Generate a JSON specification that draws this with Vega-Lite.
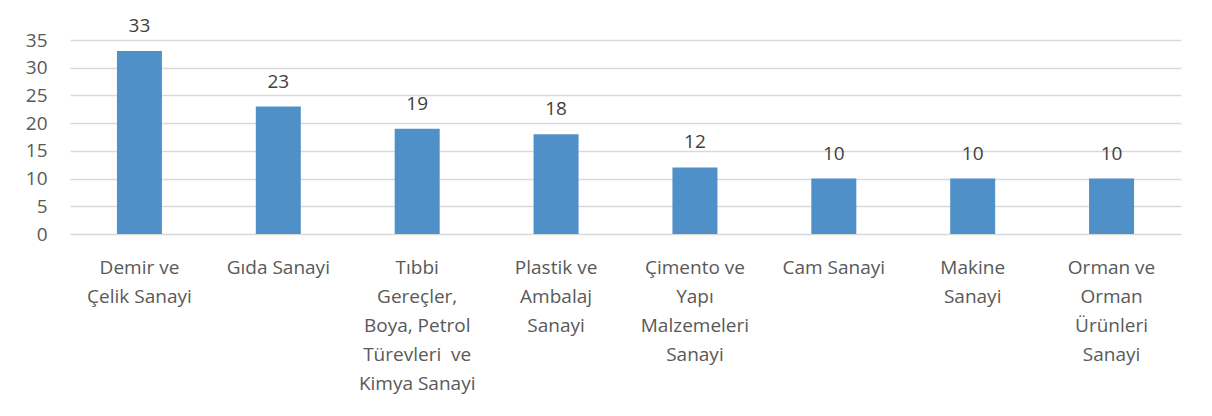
{
  "$schema": "https://vega.github.io/schema/vega-lite/v6.json",
  "autosize": "none",
  "width": 1111,
  "height": 194,
  "padding": {"left": 70, "top": 40, "right": 31, "bottom": 182},
  "background": "white",
  "config": {
    "view": {"stroke": null},
    "font": "Open Sans"
  },
  "data": {
    "values": [
      {"sector": "Demir ve|Çelik Sanayi", "value": 33},
      {"sector": "Gıda Sanayi", "value": 23},
      {"sector": "Tıbbi|Gereçler,|Boya, Petrol|Türevleri\u00a0 ve|Kimya Sanayi", "value": 19},
      {"sector": "Plastik ve|Ambalaj|Sanayi", "value": 18},
      {"sector": "Çimento ve|Yapı|Malzemeleri|Sanayi", "value": 12},
      {"sector": "Cam Sanayi", "value": 10},
      {"sector": "Makine|Sanayi", "value": 10},
      {"sector": "Orman ve|Orman|Ürünleri|Sanayi", "value": 10}
    ]
  },
  "encoding": {
    "x": {
      "field": "sector",
      "type": "nominal",
      "sort": null,
      "scale": {"paddingInner": 0.676, "paddingOuter": 0.338},
      "axis": {
        "title": null,
        "labelAngle": 0,
        "labelExpr": "split(datum.label, '|')",
        "labelFont": "Open Sans",
        "labelFontSize": 19,
        "labelColor": "#595959",
        "labelLineHeight": 29,
        "labelPadding": 24,
        "labelBaseline": "top",
        "ticks": false,
        "domain": false,
        "grid": false
      }
    },
    "y": {
      "field": "value",
      "type": "quantitative",
      "scale": {"domain": [0, 35], "nice": false},
      "axis": {
        "title": null,
        "values": [0, 5, 10, 15, 20, 25, 30, 35],
        "labelFont": "Open Sans",
        "labelFontSize": 19,
        "labelColor": "#595959",
        "labelPadding": 23,
        "ticks": false,
        "domain": false,
        "grid": true,
        "gridColor": "#d9d9d9",
        "gridWidth": 1.5
      }
    }
  },
  "layer": [
    {"mark": {"type": "bar", "color": "#5090c9"}},
    {
      "mark": {"type": "text", "baseline": "bottom", "dy": -15, "fontSize": 19, "color": "#404040", "font": "Open Sans"},
      "encoding": {"text": {"field": "value", "type": "quantitative"}}
    }
  ]
}
